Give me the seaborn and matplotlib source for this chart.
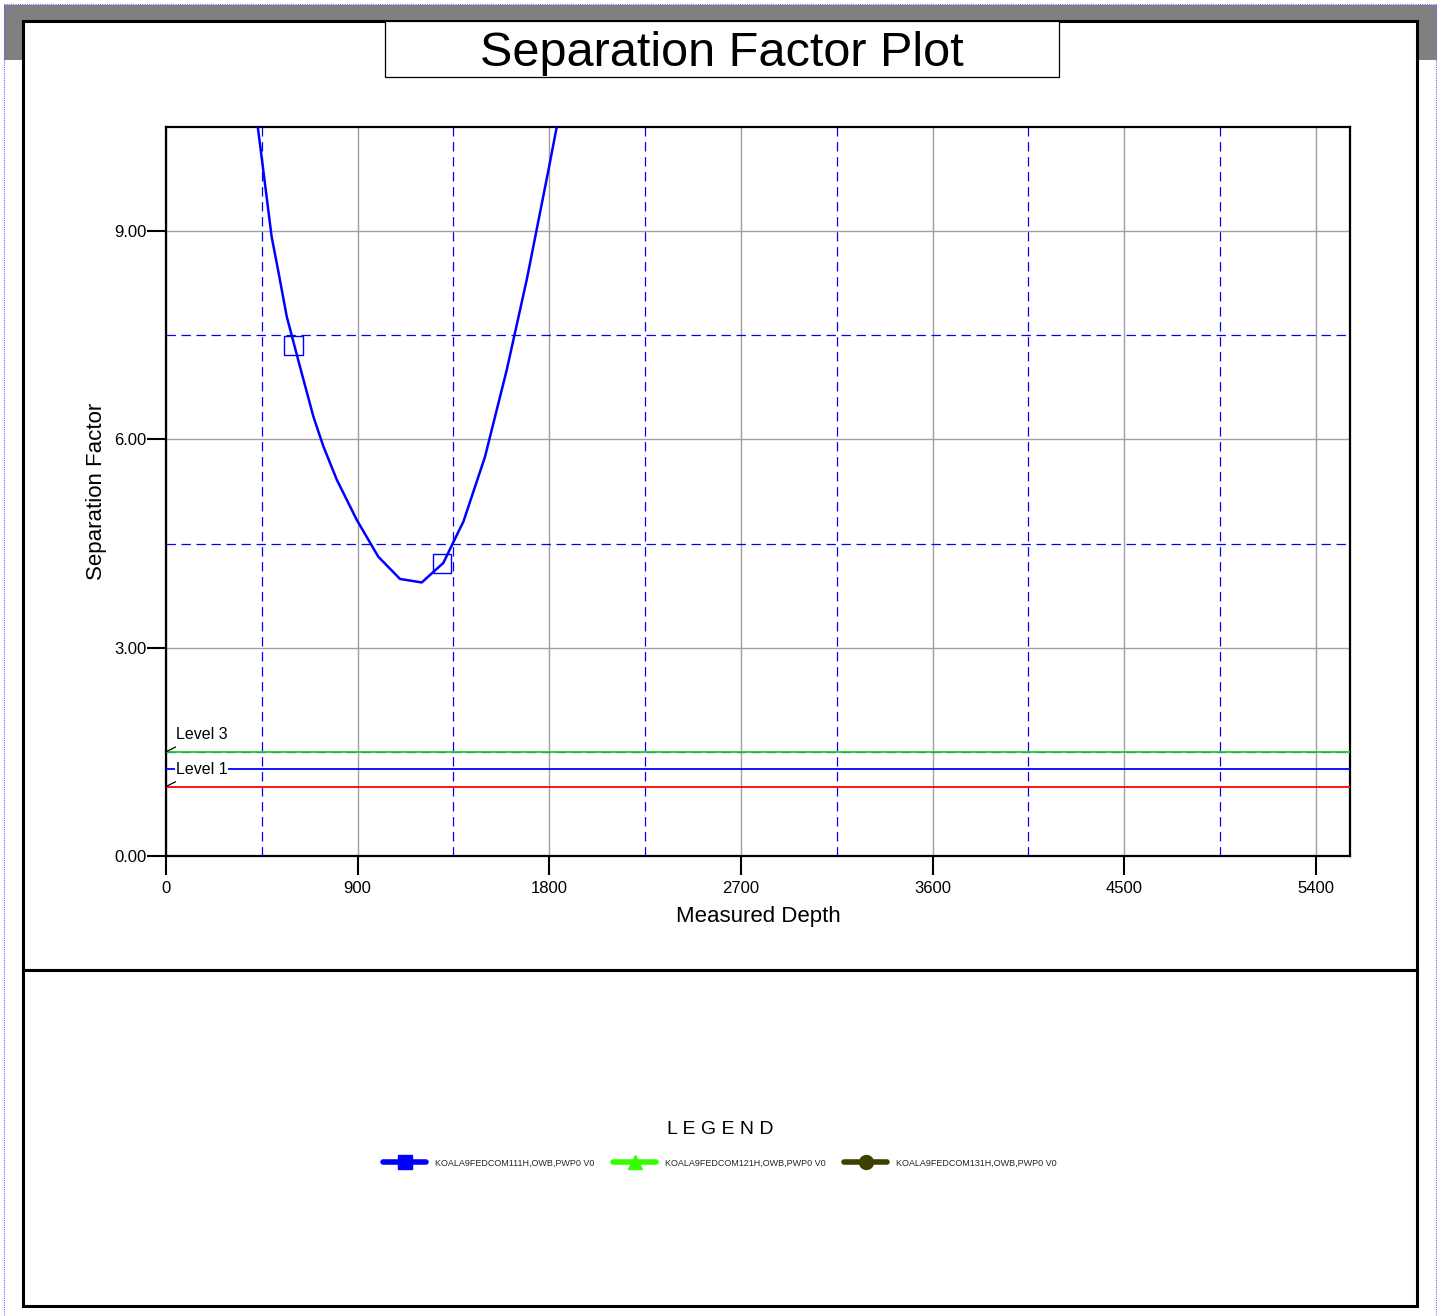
import matplotlib
matplotlib.use("Agg")
import matplotlib.pyplot as plt
import seaborn as sns
import pandas as pd
from matplotlib.patches import Rectangle
from matplotlib.lines import Line2D
from matplotlib.ticker import FixedLocator, FuncFormatter

# ---------------- data ----------------
depth = [405, 460, 496, 530, 567, 629, 692, 739, 802, 896, 997, 1099, 1201,
         1302, 1397, 1498, 1600, 1694, 1796, 1870]
sep_factor = [11.13, 9.80, 8.92, 8.38, 7.77, 7.05, 6.33, 5.90, 5.42, 4.84,
              4.31, 3.99, 3.94, 4.22, 4.82, 5.75, 7.00, 8.30, 9.88, 11.06]
marker_depth = [597, 1296]
marker_sf = [7.35, 4.21]

level_values = [1.5, 1.25, 1.0]
level_colors = ["#22cc22", "#0000ff", "#ff0000"]
level_names = ["Level 3", "Level 1", None]

x_ticks = [0, 900, 1800, 2700, 3600, 4500, 5400]
y_ticks = [0.0, 3.0, 6.0, 9.0]
x_minor = [450, 1350, 2250, 3150, 4050, 4950]
y_minor = [1.5, 4.5, 7.5]
x_max = 5560
y_max = 10.5

legend_labels = ["KOALA9FEDCOM111H,OWB,PWP0 V0",
                 "KOALA9FEDCOM121H,OWB,PWP0 V0",
                 "KOALA9FEDCOM131H,OWB,PWP0 V0"]
legend_colors = ["#0000ff", "#33ff00", "#3f3f00"]
legend_markers = ["s", "^", "o"]

# ---------------- figure ----------------
sns.set_theme(style="white")
plt.rcParams["font.family"] = ["Liberation Sans", "DejaVu Sans"]

W, H = 1437, 1316
fig = plt.figure(figsize=(W / 100, H / 100), dpi=100)
fig.patch.set_facecolor("white")


def frect(x0, y0, x1, y1, **kw):
    """rectangle in figure pixel coords (top-left origin)"""
    r = Rectangle((x0 / W, 1 - y1 / H), (x1 - x0) / W, (y1 - y0) / H,
                  transform=fig.transFigure, **kw)
    fig.add_artist(r)
    return r


# gray band and dotted page border
frect(4, 5, 1437, 60, facecolor="#808080", edgecolor="none", zorder=0)
for xs, ys in (([4, 1436], [4, 4]), ([4, 4], [4, 1316]), ([1436, 1436], [4, 1316])):
    fig.add_artist(Line2D([v / W for v in xs], [1 - v / H for v in ys],
                          transform=fig.transFigure, color="#6666ff", lw=0.8,
                          ls=(0, (1, 1))))

# panels
frect(23, 21, 1417, 970, facecolor="white", edgecolor="black", lw=2.2, zorder=1)
frect(23, 970, 1417, 1306, facecolor="white", edgecolor="black", lw=2.2, zorder=1)
frect(385, 21, 1059, 77, facecolor="white", edgecolor="black", lw=0.9, zorder=2)
fig.text(722 / W, 1 - 66 / H, "Separation Factor Plot", ha="center", va="baseline",
         fontsize=35, color="black", zorder=3)

# ---------------- axes ----------------
ax = fig.add_axes([166 / W, 1 - 856 / H, (1350 - 166) / W, (856 - 127) / H], zorder=5)
ax.set_facecolor("white")
ax.set_xlim(0, x_max)
ax.set_ylim(0, y_max)

ax.xaxis.set_major_locator(FixedLocator(x_ticks))
ax.yaxis.set_major_locator(FixedLocator(y_ticks))
ax.xaxis.set_minor_locator(FixedLocator(x_minor))
ax.yaxis.set_minor_locator(FixedLocator(y_minor))
ax.yaxis.set_major_formatter(FuncFormatter(lambda v, p: f"{v:.2f}"))
ax.xaxis.set_major_formatter(FuncFormatter(lambda v, p: f"{int(v)}"))

ax.grid(which="major", color="#a0a0a0", lw=1.0, ls="-")
ax.grid(which="minor", color="#0000ff", lw=0.9, ls=(0, (7.5, 4.5)))
ax.set_axisbelow(True)

for s in ax.spines.values():
    s.set_color("black")
    s.set_linewidth(1.6)

ax.tick_params(which="major", direction="out", length=14, width=1.5, color="black",
               labelsize=12, labelcolor="black", left=True, bottom=True)
ax.tick_params(axis="y", which="major", pad=0)
ax.tick_params(axis="x", which="major", pad=4)
ax.tick_params(which="minor", length=0)

# level lines
for val, col in zip(level_values, level_colors):
    ax.axhline(val, color=col, lw=1.3, zorder=3)
for val in (level_values[0], level_values[2]):
    ax.plot([0, 45], [val, val + 0.07], color="black", lw=0.9, zorder=4)
ax.text(47, level_values[0] + 0.25, level_names[0], fontsize=11.5, color="black",
        ha="left", va="center", zorder=4)
ax.text(47, level_values[1], level_names[1], fontsize=11.5, color="black",
        ha="left", va="center", zorder=4,
        bbox=dict(facecolor="white", edgecolor="none", pad=0.5))

# separation factor curve
df = pd.DataFrame({"Measured Depth": depth, "Separation Factor": sep_factor})
sns.lineplot(data=df, x="Measured Depth", y="Separation Factor", ax=ax,
             color="#0000ff", lw=1.8, sort=False, zorder=6, legend=False)
mk = pd.DataFrame({"d": marker_depth, "s": marker_sf})
sns.scatterplot(data=mk, x="d", y="s", ax=ax, marker="s", s=185,
                facecolor="none", edgecolor="#0000ff", linewidth=1.0, zorder=7, legend=False)
ax.set_xlabel("Measured Depth", fontsize=16, color="black", labelpad=7)
ax.set_ylabel("Separation Factor", fontsize=16, color="black", labelpad=5)

# ---------------- legend ----------------
fig.text(720 / W, 1 - 1129 / H, "L E G E N D", ha="center", va="center",
         fontsize=14, color="black", zorder=3)
handles = [Line2D([0], [0], color=c, lw=4, marker=m, markersize=10,
                  markerfacecolor=c, markeredgecolor=c)
           for c, m in zip(legend_colors, legend_markers)]
leg = fig.legend(handles, legend_labels, loc="center", ncol=3,
                 bbox_to_anchor=(720 / W, 1 - 1163 / H), frameon=False,
                 fontsize=6.5, handlelength=4.8, handletextpad=1.0,
                 columnspacing=2.0)
leg.set_zorder(4)

fig.savefig("out.png", dpi=100, facecolor="white")
